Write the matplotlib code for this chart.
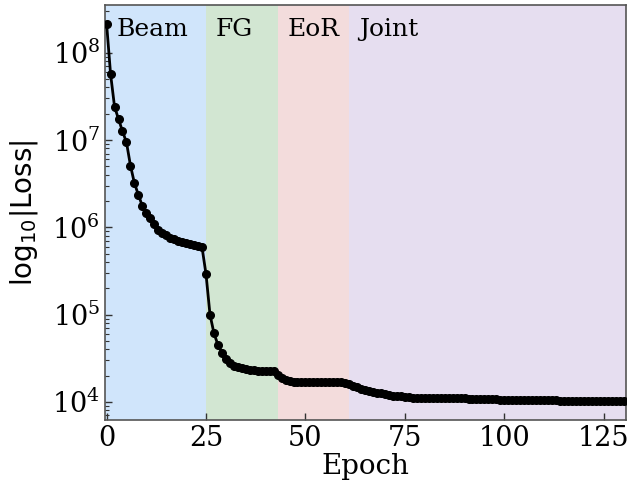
import numpy as np
import matplotlib.pyplot as plt

plt.rcParams['font.family'] = 'DejaVu Serif'
plt.rcParams['mathtext.fontset'] = 'dejavuserif'

# loss per epoch, one list per training phase
beam_loss = [2.14e8, 5.7e7, 2.4e7, 1.74e7, 1.26e7, 9.4e6, 5.1e6, 3.2e6, 2.35e6, 1.75e6,
             1.45e6, 1.28e6, 1.1e6, 9.3e5, 8.6e5, 8.1e5, 7.6e5, 7.3e5, 7.0e5, 6.8e5,
             6.6e5, 6.4e5, 6.2e5, 6.05e5, 5.9e5]
fg_loss = [2.9e5, 1.0e5, 6.1e4, 4.5e4, 3.67e4, 3.1e4, 2.8e4, 2.6e4, 2.5e4, 2.43e4,
           2.37e4, 2.33e4, 2.3e4, 2.28e4, 2.27e4, 2.27e4, 2.26e4, 2.25e4]
eor_loss = [2.05e4, 1.9e4, 1.8e4, 1.74e4, 1.7e4, 1.68e4, 1.67e4, 1.67e4, 1.67e4, 1.67e4,
            1.67e4, 1.67e4, 1.67e4, 1.67e4, 1.67e4, 1.67e4, 1.67e4, 1.66e4]
joint_loss = [1.6e4, 1.52e4, 1.49e4, 1.42e4, 1.38e4, 1.33e4, 1.3e4, 1.27e4, 1.25e4, 1.22e4,
              1.2e4, 1.18e4, 1.17e4, 1.16e4, 1.15e4, 1.13e4, 1.12e4, 1.11e4, 1.11e4, 1.11e4,
              1.11e4, 1.105e4, 1.105e4, 1.1e4, 1.1e4, 1.1e4, 1.1e4, 1.1e4, 1.095e4, 1.095e4,
              1.09e4, 1.09e4, 1.09e4, 1.085e4, 1.085e4, 1.08e4, 1.08e4, 1.075e4, 1.055e4, 1.055e4,
              1.055e4, 1.055e4, 1.05e4, 1.05e4, 1.05e4, 1.05e4, 1.05e4, 1.05e4, 1.05e4, 1.05e4,
              1.05e4, 1.05e4, 1.05e4, 1.02e4, 1.02e4, 1.02e4, 1.02e4, 1.02e4, 1.02e4, 1.02e4,
              1.02e4, 1.02e4, 1.02e4, 1.02e4, 1.02e4, 1.02e4, 1.02e4, 1.02e4, 1.02e4, 1.02e4]

phase_names = ['Beam', 'FG', 'EoR', 'Joint']
phase_starts = [-1, 25, 43, 61]
phase_ends = [25, 43, 61, 132]
phase_colors = ['#d0e5fb', '#d2e6d2', '#f3dcdc', '#e6def0']

loss = np.array(beam_loss + fg_loss + eor_loss + joint_loss)
epoch = np.arange(len(loss))

fig = plt.figure(figsize=(6.31, 4.95), dpi=100)
ax = fig.add_axes([105 / 631, 1 - 420 / 495, 521 / 631, 415 / 495])

for name, x0, x1, c in zip(phase_names, phase_starts, phase_ends, phase_colors):
    ax.axvspan(x0, x1, color=c, lw=0, zorder=0)
    ax.text(max(x0, 0) + 2.5, 0.968, name, transform=ax.get_xaxis_transform(),
            fontsize=18, va='top', ha='left')

ax.plot(epoch, loss, color='black', lw=2, marker='o', ms=5.5, zorder=3)
ax.set_yscale('log')
ax.set_xlim(-0.4, 130.6)
ax.set_xticks([0, 25, 50, 75, 100, 125])

ax.set_xlabel('Epoch', fontsize=20, labelpad=1)
ax.set_ylabel(r'log$_{10}$|Loss|', fontsize=20, family='DejaVu Sans',
              math_fontfamily='dejavusans', labelpad=9)

ax.tick_params(which='both', direction='in', labelsize=19.5, color='#333333')
ax.tick_params(which='major', length=5, width=1)
ax.tick_params(which='minor', length=3, width=0.8)
for s in ax.spines.values():
    s.set_color('#555555')
    s.set_linewidth(1.2)

fig.savefig('out.png', dpi=100)
